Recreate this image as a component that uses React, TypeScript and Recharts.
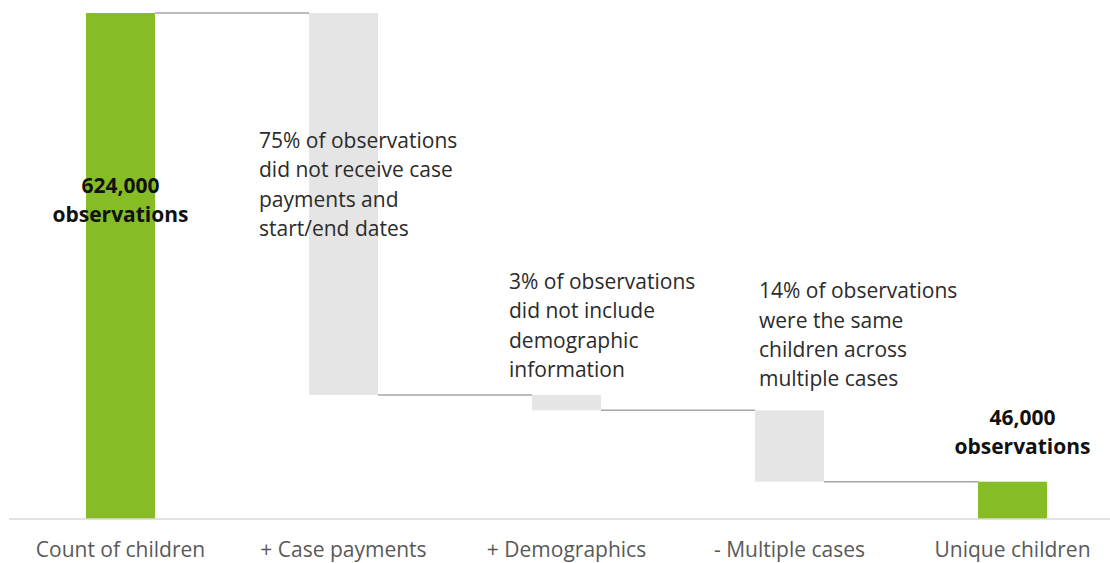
import React from "react";
import { BarChart, Bar, XAxis, YAxis, LabelList } from "recharts";

// waterfall steps
const categories = [
  "Count of children",
  "+ Case payments",
  "+ Demographics",
  "- Multiple cases",
  "Unique children",
];
const kinds = ["total", "drop", "drop", "drop", "total"];
const amounts = [624000, 471000, 19000, 88000, 46000];
const annotations = [
  ["624,000", "observations"],
  ["75% of observations", "did not receive case", "payments and", "start/end dates"],
  ["3% of observations", "did not include", "demographic", "information"],
  ["14% of observations", "were the same", "children across", "multiple cases"],
  ["46,000", "observations"],
];

const GREEN = "#86BC25";
const GREY = "#E5E5E5";
const CONNECTOR = "#A6A6A6";
const FONT = "'Open Sans', sans-serif";

const WIDTH = 1124;
const HEIGHT = 563;
const MARGIN = { top: 13, right: 0, left: 9, bottom: 0 };
const BAR_SIZE = 69;
const BAND = (WIDTH - MARGIN.left - MARGIN.right) / categories.length;
const GAP = BAND - BAR_SIZE;

// running level -> invisible base + visible piece
let level = 0;
const data = categories.map((name, i) => {
  if (kinds[i] === "total") {
    level = amounts[i];
    return { name, base: 0, value: amounts[i], kind: "total" };
  }
  level -= amounts[i];
  return { name, base: level, value: amounts[i], kind: "drop" };
});

// where each note sits relative to its bar
const notePlacement = [
  { bold: true, anchor: "middle", dx: 0, fromTop: 180 },
  { bold: false, anchor: "start", dx: -50, fromTop: 135 },
  { bold: false, anchor: "start", dx: -23, fromTop: -106 },
  { bold: false, anchor: "start", dx: 4, fromTop: -112 },
  { bold: true, anchor: "middle", dx: 10, fromTop: -57 },
];

const StepShape = (props: any) => {
  const { x, y, width, height, index, payload } = props;
  const isLast = index === categories.length - 1;
  const lineY = payload.kind === "total" ? y : y + height;
  return (
    <g>
      <rect
        x={x}
        y={y}
        width={width}
        height={height}
        fill={payload.kind === "total" ? GREEN : GREY}
      />
      {!isLast && (
        <line
          x1={x + width}
          x2={x + width + GAP}
          y1={lineY}
          y2={lineY}
          stroke={CONNECTOR}
          strokeWidth={1.5}
        />
      )}
    </g>
  );
};

const NoteLabel = (props: any) => {
  const { x, y, width, index } = props;
  const p = notePlacement[index];
  const lines = annotations[index];
  const tx = p.anchor === "middle" ? x + width / 2 + p.dx : x + p.dx;
  return (
    <text
      x={tx}
      y={y + p.fromTop}
      textAnchor={p.anchor}
      fontFamily={FONT}
      fontSize={21}
      fontWeight={p.bold ? 700 : 400}
      fill={p.bold ? "#111111" : "#2B2B2B"}
    >
      {lines.map((t, i) => (
        <tspan key={i} x={tx} dy={i === 0 ? 0 : 29.3}>
          {t}
        </tspan>
      ))}
    </text>
  );
};

export default function App() {
  return (
    <div
      style={{
        position: "absolute",
        left: 0,
        top: 0,
        width: 1110,
        height: HEIGHT,
        overflow: "hidden",
      }}
    >
      <BarChart width={WIDTH} height={HEIGHT} data={data} margin={MARGIN} barSize={BAR_SIZE}>
        <XAxis
          dataKey="name"
          height={HEIGHT - 519}
          axisLine={{ stroke: "#D9D9D9", strokeWidth: 1.5 }}
          tickLine={false}
          tickSize={0}
          tickMargin={23}
          interval={0}
          tick={{ fill: "#595959", fontSize: 21, fontFamily: FONT }}
        />
        <YAxis hide domain={[0, 624000]} />
        <Bar dataKey="base" stackId="w" fill="transparent" isAnimationActive={false} />
        <Bar dataKey="value" stackId="w" shape={StepShape} isAnimationActive={false}>
          <LabelList dataKey="value" content={NoteLabel} />
        </Bar>
      </BarChart>
    </div>
  );
}
